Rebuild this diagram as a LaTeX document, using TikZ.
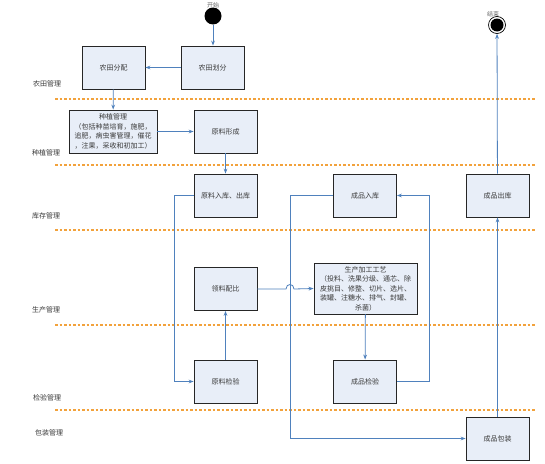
\documentclass[tikz,border=0pt]{standalone}
\usepackage{fontspec}
\newfontfamily\cjk{Noto Sans CJK SC}
\usetikzlibrary{arrows.meta,positioning,calc}
\definecolor{boxFill}{HTML}{E8EEF8}
\definecolor{flowBlue}{HTML}{4F81BD}
\definecolor{laneOrange}{HTML}{F2A23C}
\definecolor{textDark}{HTML}{3A3A3A}

\begin{document}
\begin{tikzpicture}[x=1pt, y=-1pt,
      stepbox/.style={
        rectangle, fill=boxFill, draw=black!85, line width=0.9pt,
        text=textDark, align=center, font=\cjk\fontsize{7pt}{9.5pt}\selectfont,
        minimum width=63pt, minimum height=43pt, inner sep=1pt
      },
      flowarr/.style={-{Stealth[scale=0.75]}, draw=flowBlue, line width=0.8pt},
      lanesep/.style={draw=laneOrange, line width=1.6pt, dash pattern=on 2.5pt off 2pt},
      lanelabel/.style={text=textDark, font=\cjk\fontsize{7pt}{8pt}\selectfont, inner sep=0pt},
      endlabel/.style={text=black!60, font=\cjk\fontsize{6pt}{7pt}\selectfont, inner sep=0pt}
    ]
      \useasboundingbox[fill=white] (0,0) rectangle (545,463);

      % swim lane separators and names
      \foreach \ly in {99,165,230,325,410}
        \draw[lanesep] (55,\ly) -- (535,\ly);
      \node[lanelabel] (laneA) at (47,84) {农田管理};
      \node[lanelabel] (laneB) at (46,153) {种植管理};
      \node[lanelabel] (laneC) at (46,216) {库存管理};
      \node[lanelabel] (laneD) at (46,310) {生产管理};
      \node[lanelabel] (laneE) at (47,398) {检验管理};
      \node[lanelabel] (laneF) at (49,433) {包装管理};

      % start / end
      \node[endlabel] (startlbl) at (213,5) {开始};
      \node[circle, fill=black, minimum size=17pt, inner sep=0pt] (start) at (213,16) {};
      \node[endlabel] (endlbl) at (493,14) {结束};
      \node[circle, draw=black, line width=0.7pt, fill=white, minimum size=17pt, inner sep=0pt] (endpt) at (497,25) {};
      \node[circle, fill=black, minimum size=13pt, inner sep=0pt] (endcore) at (endpt) {};

      % steps
      \node[stepbox] (alloc) at (113.5,67.5) {农田分配};
      \node[stepbox] (divide) at (212.5,67.5) {农田划分};
      \node[stepbox, minimum width=88pt] (plant) at (113,131.5) {种植管理\\（包括种苗培育，施肥，\\追肥，病虫害管理，催花\\，注果，采收和初加工）};
      \node[stepbox] (raw) at (225.5,131.5) {原料形成};
      \node[stepbox] (rawstore) at (225.5,195.5) {原料入库、出库};
      \node[stepbox] (prodstore) at (365,195.5) {成品入库};
      \node[stepbox] (prodout) at (497.5,195.5) {成品出库};
      \node[stepbox] (ratio) at (225.5,289) {领料配比};
      \node[stepbox, minimum width=103pt, minimum height=51pt] (process) at (365.5,288.5) {生产加工工艺\\（投料、洗果分级、通芯、除\\皮挑目、修整、切片、选片、\\装罐、注糖水、排气、封罐、\\杀菌）};
      \node[stepbox] (rawcheck) at (225.5,381.5) {原料检验};
      \node[stepbox] (prodcheck) at (365,381.5) {成品检验};
      \node[stepbox] (pack) at (497.5,438.5) {成品包装};

      \coordinate (hop) at (290,289);

      \draw[flowarr] (start) -- (start |- divide.north);
      \draw[flowarr] (divide) -- (alloc);
      \draw[flowarr] (alloc) -- (plant);
      \draw[flowarr] (plant) -- (raw);
      \draw[flowarr] (raw) -- (rawstore);
      \draw[flowarr] (rawstore.west) -- ++(-19,0) |- (rawcheck.west);
      \draw[flowarr] (rawcheck) -- (ratio);
      \draw[flowarr] (ratio.east) -- ($(hop)+(-4,0)$) .. controls +(0,-6) and +(0,-6) .. ($(hop)+(4,0)$) -- (process.west);
      \draw[flowarr] (process) -- (prodcheck);
      \draw[flowarr] (prodcheck.east) -- ++(32,0) |- (prodstore.east);
      \draw[flowarr] (prodstore.west) -- (hop |- prodstore.west) |- (pack.west);
      \draw[flowarr] (pack) -- (prodout);
      \draw[flowarr] (prodout) -- (endpt);
    \end{tikzpicture}
\end{document}
